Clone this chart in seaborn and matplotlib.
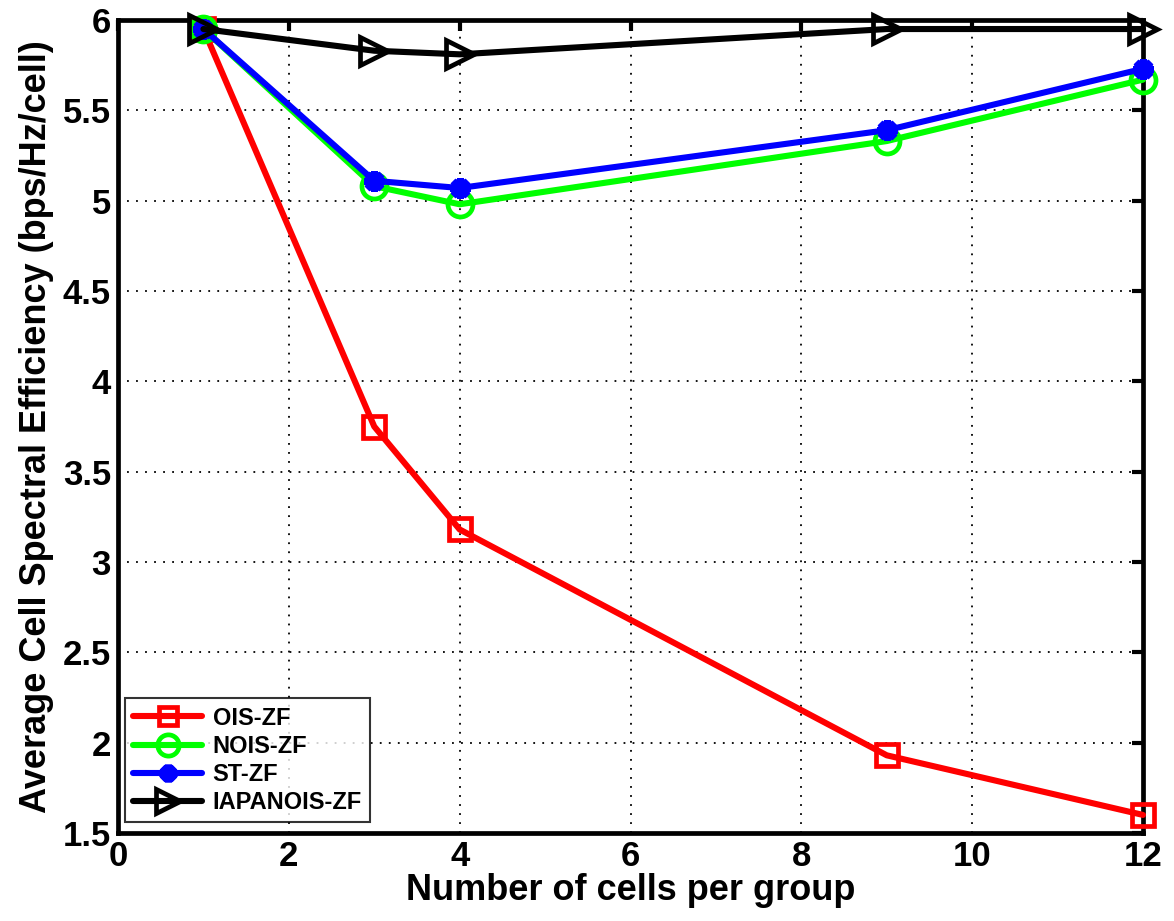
import numpy as np
import pandas as pd
import matplotlib
matplotlib.use("Agg")
import matplotlib.pyplot as plt
import seaborn as sns

cells = [1, 3, 4, 9, 12]
ois_zf = [5.95, 3.75, 3.18, 1.93, 1.60]
nois_zf = [5.95, 5.08, 4.98, 5.33, 5.67]
st_zf = [5.95, 5.11, 5.07, 5.39, 5.73]
iapanois_zf = [5.95, 5.83, 5.81, 5.95, 5.95]

series_names = ["OIS-ZF", "NOIS-ZF", "ST-ZF", "IAPANOIS-ZF"]
series_values = [ois_zf, nois_zf, st_zf, iapanois_zf]
colors = ["#ff0000", "#00ff00", "#0000ff", "#000000"]

x_ticks = [0, 2, 4, 6, 8, 10, 12]
y_ticks = [1.5, 2, 2.5, 3, 3.5, 4, 4.5, 5, 5.5, 6]

df = pd.DataFrame({
    "cells": cells * len(series_names),
    "value": sum(series_values, []),
    "scheme": np.repeat(series_names, len(cells)),
})

sns.set_style("white")
plt.rcParams["font.family"] = ["Liberation Sans", "DejaVu Sans"]
plt.rcParams["font.weight"] = "bold"
plt.rcParams["text.color"] = "black"
plt.rcParams["axes.labelcolor"] = "black"
plt.rcParams["xtick.color"] = "black"
plt.rcParams["ytick.color"] = "black"

# marker styling per scheme: (marker, size, face, edge width)
marker_style = {
    "OIS-ZF": ("s", 16, "none", 3.4),
    "NOIS-ZF": ("o", 18, "none", 3.4),
    "ST-ZF": ((8, 2, 0), 15, "#0000ff", 5.0),
    "IAPANOIS-ZF": (">", 20, "none", 3.4),
}

fig = plt.figure(figsize=(11.74, 9.21), dpi=100)
ax = fig.add_axes([118 / 1174, 1 - 833 / 921, (1143 - 118) / 1174, (833 - 20) / 921])

for name, col in zip(series_names, colors):
    sub = df[df["scheme"] == name]
    mk, ms, mfc, mew = marker_style[name]
    sns.lineplot(data=sub, x="cells", y="value", ax=ax, color=col, lw=4.4,
                 marker=mk, markersize=ms, markerfacecolor=mfc,
                 markeredgecolor=col, markeredgewidth=mew, label=name,
                 clip_on=False, zorder=3)

ax.set_xlim(0, 12)
ax.set_ylim(1.5, 6)
ax.set_xticks(x_ticks)
ax.set_yticks(y_ticks)
ax.set_xticklabels([str(v) for v in x_ticks])
ax.set_yticklabels([f"{v:g}" for v in y_ticks])
ax.grid(True, color="black", linestyle=(0, (1, 4)), linewidth=1.3)
ax.tick_params(direction="in", length=8, width=3, labelsize=25,
               top=True, right=True, pad=5)
for lbl in ax.get_xticklabels() + ax.get_yticklabels():
    lbl.set_fontweight("bold")
for sp in ax.spines.values():
    sp.set_linewidth(3.4)
    sp.set_color("black")

ax.set_xlabel("Number of cells per group", fontsize=26, fontweight="bold", labelpad=0)
ax.set_ylabel("Average Cell Spectral Efficiency (bps/Hz/cell)", fontsize=26,
              fontweight="bold", labelpad=6)

leg = ax.legend(loc="lower left", bbox_to_anchor=(0.007, 0.013), borderaxespad=0,
                frameon=True, fancybox=False, edgecolor="black",
                handlelength=2.9, handletextpad=0.45, borderpad=0.35,
                labelspacing=0.22, prop={"weight": "bold", "size": 17})
leg.get_frame().set_linewidth(1.5)
leg.set_zorder(5)
for h in leg.legend_handles:
    h.set_markersize(h.get_markersize() * 0.85)

fig.savefig("out.png", dpi=100)
